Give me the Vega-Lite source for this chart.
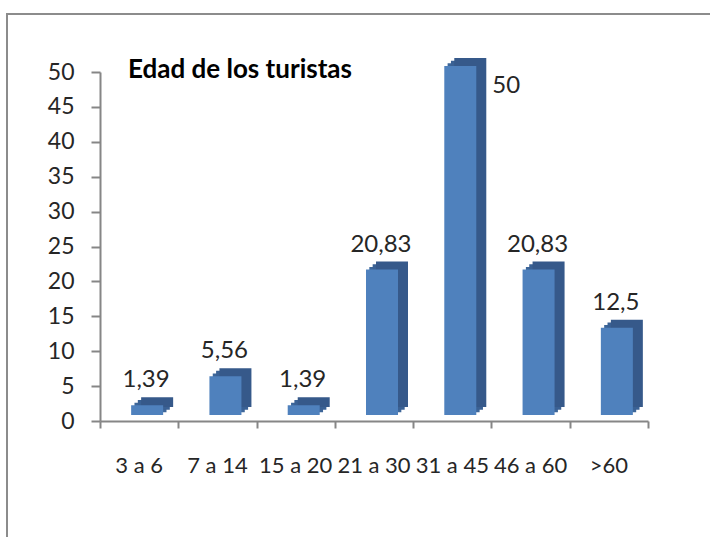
{
  "$schema": "https://vega.github.io/schema/vega-lite/v6.json",
  "autosize": "none",
  "padding": {"left": 7, "top": 14, "right": 0, "bottom": 0},
  "width": 706,
  "height": 526,
  "background": "white",
  "config": {
    "font": "Lato",
    "view": {"stroke": "#8c8c8c", "strokeWidth": 2}
  },
  "title": {
    "text": "Edad de los turistas",
    "anchor": "start",
    "frame": "group",
    "orient": "top",
    "baseline": "alphabetic",
    "offset": 0,
    "dx": 121,
    "dy": 90,
    "fontSize": 26,
    "fontWeight": "bold",
    "color": "#000000",
    "font": "Lato"
  },
  "data": {
    "values": [
      {"edad": "3 a 6", "pct": 1.39, "etiqueta": "1,39"},
      {"edad": "7 a 14", "pct": 5.56, "etiqueta": "5,56"},
      {"edad": "15 a 20", "pct": 1.39, "etiqueta": "1,39"},
      {"edad": "21 a 30", "pct": 20.83, "etiqueta": "20,83"},
      {"edad": "31 a 45", "pct": 50, "etiqueta": "50"},
      {"edad": "46 a 60", "pct": 20.83, "etiqueta": "20,83"},
      {"edad": ">60", "pct": 12.5, "etiqueta": "12,5"}
    ]
  },
  "resolve": {
    "scale": {"x": "independent", "y": "independent"},
    "axis": {"x": "independent", "y": "independent"}
  },
  "layer": [
    {
      "mark": {"type": "bar", "width": 32, "color": "#3d6699"},
      "encoding": {
        "x": {"field": "edad", "type": "nominal", "sort": null, "scale": {"type": "band", "domain": ["3 a 6", "7 a 14", "15 a 20", "21 a 30", "31 a 45", "46 a 60", ">60"], "range": [104.33, 652.33], "paddingInner": 0, "paddingOuter": 0}, "axis": null},
        "y": {"field": "pct", "type": "quantitative", "scale": {"domain": [0, 50], "range": [398.33, 49.33], "nice": false}, "axis": null}
      }
    },
    {
      "mark": {"type": "bar", "width": 32, "color": "#3a6194"},
      "encoding": {
        "x": {"field": "edad", "type": "nominal", "sort": null, "scale": {"type": "band", "domain": ["3 a 6", "7 a 14", "15 a 20", "21 a 30", "31 a 45", "46 a 60", ">60"], "range": [107.67, 655.67], "paddingInner": 0, "paddingOuter": 0}, "axis": null},
        "y": {"field": "pct", "type": "quantitative", "scale": {"domain": [0, 50], "range": [395.67, 46.67], "nice": false}, "axis": null}
      }
    },
    {
      "mark": {"type": "bar", "width": 32, "color": "#36598a"},
      "encoding": {
        "x": {"field": "edad", "type": "nominal", "sort": null, "scale": {"type": "band", "domain": ["3 a 6", "7 a 14", "15 a 20", "21 a 30", "31 a 45", "46 a 60", ">60"], "range": [111, 659], "paddingInner": 0, "paddingOuter": 0}, "axis": null},
        "y": {"field": "pct", "type": "quantitative", "scale": {"domain": [0, 50], "range": [393, 44], "nice": false}, "axis": null}
      }
    },
    {
      "mark": {"type": "bar", "width": 32, "color": "#4f81bd"},
      "encoding": {
        "x": {"field": "edad", "type": "nominal", "sort": null, "scale": {"type": "band", "domain": ["3 a 6", "7 a 14", "15 a 20", "21 a 30", "31 a 45", "46 a 60", ">60"], "range": [101, 649], "paddingInner": 0, "paddingOuter": 0}, "axis": null},
        "y": {"field": "pct", "type": "quantitative", "scale": {"domain": [0, 50], "range": [401, 52], "nice": false}, "axis": null}
      }
    },
    {
      "transform": [{"filter": "datum.pct < 50"}],
      "mark": {"type": "text", "fontSize": 24, "color": "#262626", "baseline": "alphabetic", "align": "center", "dy": -24},
      "encoding": {
        "x": {
          "field": "edad",
          "type": "nominal",
          "sort": null,
          "bandPosition": 0.589,
          "scale": {"type": "band", "domain": ["3 a 6", "7 a 14", "15 a 20", "21 a 30", "31 a 45", "46 a 60", ">60"], "range": [93, 641], "paddingInner": 0, "paddingOuter": 0},
          "axis": null
        },
        "y": {
          "field": "pct",
          "type": "quantitative",
          "scale": {"domain": [0, 50], "range": [407, 58], "nice": false},
          "axis": {
            "title": null,
            "orient": "left",
            "offset": -93,
            "values": [0, 5, 10, 15, 20, 25, 30, 35, 40, 45, 50],
            "grid": false,
            "labelFontSize": 23,
            "labelColor": "#262626",
            "labelPadding": 17,
            "tickSize": 9,
            "tickColor": "#868686",
            "tickWidth": 2,
            "domain": true,
            "domainColor": "#868686",
            "domainWidth": 2
          }
        },
        "text": {"field": "etiqueta"}
      }
    },
    {
      "transform": [{"filter": "datum.pct >= 50"}],
      "mark": {"type": "text", "fontSize": 24, "color": "#262626", "baseline": "alphabetic", "align": "center", "dx": 54, "dy": 21},
      "encoding": {
        "x": {
          "field": "edad",
          "type": "nominal",
          "sort": null,
          "scale": {"type": "band", "domain": ["3 a 6", "7 a 14", "15 a 20", "21 a 30", "31 a 45", "46 a 60", ">60"], "range": [93, 641], "paddingInner": 0, "paddingOuter": 0},
          "axis": {
            "title": null,
            "orient": "bottom",
            "offset": -119,
            "labelAngle": 0,
            "labelFontSize": 22,
            "labelColor": "#262626",
            "labelPadding": 44,
            "labelBaseline": "alphabetic",
            "ticks": true,
            "tickSize": 7,
            "tickOpacity": 0,
            "domain": true,
            "domainColor": "#868686",
            "domainWidth": 2
          }
        },
        "y": {"field": "pct", "type": "quantitative", "scale": {"domain": [0, 50], "range": [407, 58], "nice": false}, "axis": null},
        "text": {"field": "etiqueta"}
      }
    },
    {
      "transform": [{"filter": "datum.pct <= 7"}],
      "mark": {"type": "text", "opacity": 0},
      "encoding": {
        "x": {
          "field": "pct",
          "type": "quantitative",
          "scale": {"domain": [0, 7], "range": [93, 641], "nice": false, "zero": false},
          "axis": {
            "title": null,
            "orient": "bottom",
            "offset": -119,
            "values": [0, 1, 2, 3, 4, 5, 6, 7],
            "labels": false,
            "grid": false,
            "domain": false,
            "ticks": true,
            "tickSize": 7,
            "tickColor": "#868686",
            "tickWidth": 2
          }
        },
        "text": {"field": "etiqueta"}
      }
    }
  ]
}
